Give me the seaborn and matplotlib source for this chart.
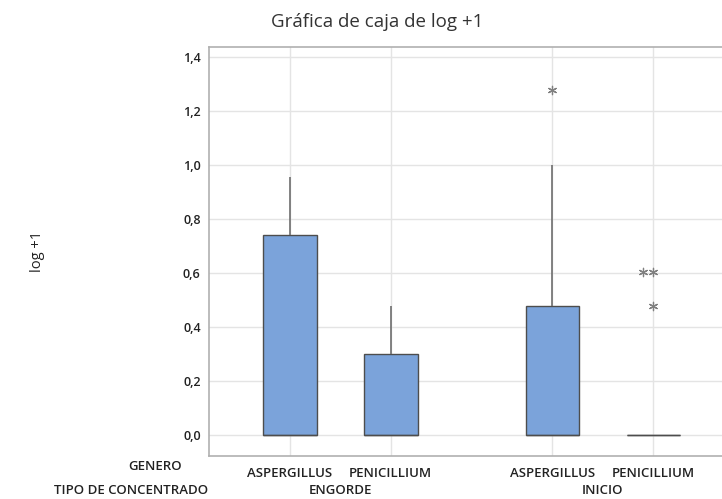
import numpy as np
import pandas as pd
import matplotlib
matplotlib.use("Agg")
import matplotlib.pyplot as plt
import matplotlib.transforms as mtransforms
from matplotlib.ticker import FuncFormatter
import seaborn as sns

# log10(x+1) values for each group
engorde_aspergillus = [0, 0, 0, 0, 0, 0.301, 0.740, 0.845, 0.954]
engorde_penicillium = [0, 0, 0, 0, 0, 0, 0.301, 0.301, 0.477]
inicio_aspergillus = [0, 0, 0, 0, 0, 0.301, 0.477, 1.000, 1.279]
inicio_penicillium = [0, 0, 0, 0, 0, 0, 0, 0, 0, 0, 0.477, 0.602, 0.602]

groups = [
    ("ENGORDE", "ASPERGILLUS", engorde_aspergillus),
    ("ENGORDE", "PENICILLIUM", engorde_penicillium),
    ("INICIO", "ASPERGILLUS", inicio_aspergillus),
    ("INICIO", "PENICILLIUM", inicio_penicillium),
]

# x position of each box (Minitab leaves a gap between concentrate types)
group_pos = [0.0, 1.0, 2.6, 3.6]

rows = []
for (tipo, genero, vals), pos in zip(groups, group_pos):
    for v in vals:
        rows.append({"tipo": tipo, "genero": genero, "pos": pos, "log1": v})
df = pd.DataFrame(rows)


def is_outlier(s):
    q1, q3 = np.percentile(s, [25, 75])
    iqr = q3 - q1
    return (s < q1 - 1.5 * iqr) | (s > q3 + 1.5 * iqr)


out_df = df[df.groupby("pos")["log1"].transform(is_outlier).astype(bool)]

sns.set_style("white")
plt.rcParams["font.family"] = ["Open Sans", "DejaVu Sans"]

fig = plt.figure(figsize=(7.22, 4.99), dpi=100)
ax = fig.add_axes([0.2895, 0.0862, 0.7105, 0.8196])

edge = "#4d4d4d"
sns.boxplot(data=df, x="pos", y="log1", native_scale=True, width=0.53,
            color="#7BA3DA", saturation=1, linecolor=edge, linewidth=1,
            showfliers=False, whis=1.5,
            whiskerprops=dict(color="#6e6e6e", linewidth=1.2),
            capprops=dict(linewidth=0),
            medianprops=dict(color=edge, linewidth=1),
            ax=ax)

sns.swarmplot(data=out_df, x="pos", y="log1", native_scale=True,
              marker=(6, 2, 0), size=6, color="#808080", linewidth=0.9,
              ax=ax)

ax.set_xlim(-0.8, 4.28)
ax.set_ylim(-0.078, 1.437)
ax.set_yticks(np.arange(0, 1.41, 0.2))
ax.yaxis.set_major_formatter(FuncFormatter(lambda v, p: f"{v:.1f}".replace(".", ",")))
ax.set_xticks(group_pos)
ax.set_xticklabels([g[1] for g in groups])

ax.grid(True, color="#e4e4e4", linewidth=1)
ax.set_axisbelow(True)
for side in ["left", "bottom", "top"]:
    ax.spines[side].set_color("#b0b0b0")
    ax.spines[side].set_linewidth(1.2)
ax.spines["right"].set_visible(False)

ax.tick_params(axis="y", length=3, color="#b0b0b0", labelsize=9,
               labelcolor="#222222", pad=3)
ax.tick_params(axis="x", length=3, color="#b0b0b0", labelsize=9.5,
               labelcolor="#222222", pad=5)
for lbl in ax.get_xticklabels() + ax.get_yticklabels():
    lbl.set_fontweight("semibold")

ax.set_xlabel("")
ax.set_ylabel("log +1", fontsize=10.5, color="#222222", labelpad=0)
ax.yaxis.set_label_coords(-(209 - 45) / (0.7105 * 722), 0.5)

# second row of category labels
trans = mtransforms.blended_transform_factory(ax.transData, fig.transFigure)
for tipo in ["ENGORDE", "INICIO"]:
    xs = [p for (t, g, v), p in zip(groups, group_pos) if t == tipo]
    ax.text(np.mean(xs), 1 - 491 / 499, tipo, transform=trans, ha="center", va="center",
            fontsize=9.5, color="#222222", fontweight="semibold")

fig.text(182 / 722, 1 - 466 / 499, "GENERO", ha="right", va="center",
         fontsize=9.5, color="#222222", fontweight="semibold")
fig.text(208 / 722, 1 - 491 / 499, "TIPO DE CONCENTRADO", ha="right", va="center",
         fontsize=9.5, color="#222222", fontweight="semibold")

fig.text(377 / 722, 1 - 22 / 499, "Gráfica de caja de log +1", ha="center",
         va="center", fontsize=13.5, color="#333333")

fig.savefig("out.png", dpi=100)
plt.close(fig)
